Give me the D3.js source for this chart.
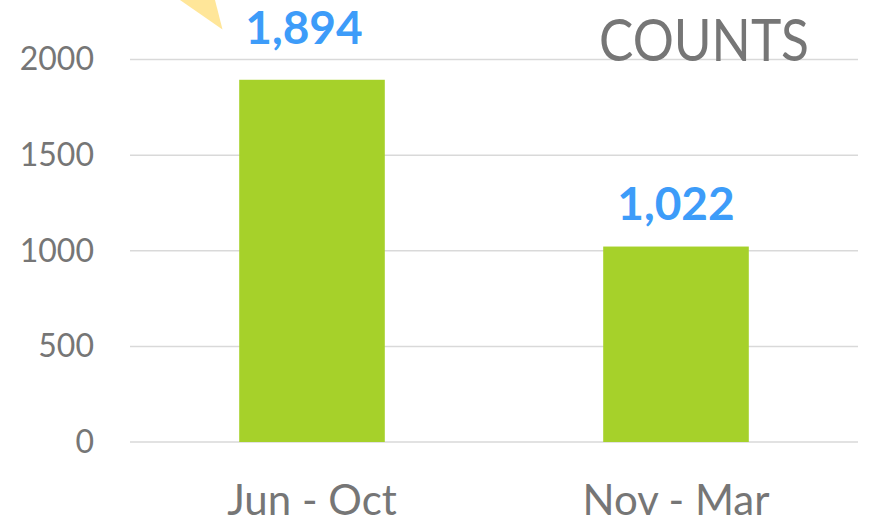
<!DOCTYPE html>
<html>
<head>
<meta charset="utf-8">
<script src="https://cdn.jsdelivr.net/npm/d3@7"></script>
<style>
  html, body { margin: 0; padding: 0; background: #fff; }
  svg { display: block; font-family: Lato, "Open Sans", sans-serif; }
</style>
</head>
<body>
<svg id="chart" width="871" height="525"></svg>
<script>
// ---- data ----
const categories = ["Jun - Oct", "Nov - Mar"];
const counts = [1894, 1022];
const yTicks = [0, 500, 1000, 1500, 2000];
const chartTitle = "COUNTS";

// ---- layout / style ----
const W = 871, H = 525;
const plot = { left: 130, right: 858, top: 59.5, bottom: 442 };
const barColor = "#a6d12a";
const labelColor = "#3d9cf9";
const textColor = "#767676";
const gridColor = "#d9d9d9";
const labelShift = [{dx: -8, dy: -9}, {dx: 0, dy: 0}];

const svg = d3.select("#chart");

const x = d3.scaleBand()
  .domain(categories)
  .range([plot.left, plot.right])
  .paddingInner(0.6)
  .paddingOuter(0.3);

const y = d3.scaleLinear()
  .domain([0, 2000])
  .range([plot.bottom, plot.top]);

// callout tip decoration (partial shape at top-left)
svg.append("polygon")
  .attr("points", "180,0 215,0 222.5,29.5")
  .attr("fill", "#ffe699");

// gridlines
svg.append("g")
  .selectAll("line")
  .data(yTicks)
  .join("line")
  .attr("x1", plot.left)
  .attr("x2", plot.right)
  .attr("y1", d => y(d))
  .attr("y2", d => y(d))
  .attr("stroke", gridColor)
  .attr("stroke-width", 1.5);

// y axis labels
const yAxis = d3.axisLeft(y).tickValues(yTicks).tickSize(0).tickPadding(36).tickFormat(d3.format("d"));
const yg = svg.append("g").attr("transform", `translate(${plot.left},0)`).call(yAxis);
yg.select(".domain").remove();
yg.selectAll("text")
  .attr("fill", textColor)
  .style("font-family", "Lato, 'Open Sans', sans-serif")
  .style("font-size", "32px");

// bars
svg.append("g")
  .selectAll("rect")
  .data(counts)
  .join("rect")
  .attr("x", (d, i) => x(categories[i]))
  .attr("width", x.bandwidth())
  .attr("y", d => y(d))
  .attr("height", d => y(0) - y(d))
  .attr("fill", barColor);

// data labels
const fmt = d3.format(",");
svg.append("g")
  .selectAll("text")
  .data(counts)
  .join("text")
  .attr("x", (d, i) => x(categories[i]) + x.bandwidth() / 2 + labelShift[i].dx)
  .attr("y", (d, i) => y(d) - 27 + labelShift[i].dy)
  .attr("text-anchor", "middle")
  .attr("fill", labelColor)
  .style("font-weight", "bold")
  .style("font-size", "46px")
  .text(d => fmt(d));

// category labels
svg.append("g")
  .selectAll("text")
  .data(categories)
  .join("text")
  .attr("x", d => x(d) + x.bandwidth() / 2)
  .attr("y", 515)
  .attr("text-anchor", "middle")
  .attr("fill", textColor)
  .style("font-size", "42px")
  .text(d => d);

// title
svg.append("text")
  .attr("x", 599)
  .attr("y", 61)
  .attr("fill", textColor)
  .style("font-size", "58px")
  .attr("textLength", 210)
  .attr("lengthAdjust", "spacingAndGlyphs")
  .text(chartTitle);
</script>
</body>
</html>
